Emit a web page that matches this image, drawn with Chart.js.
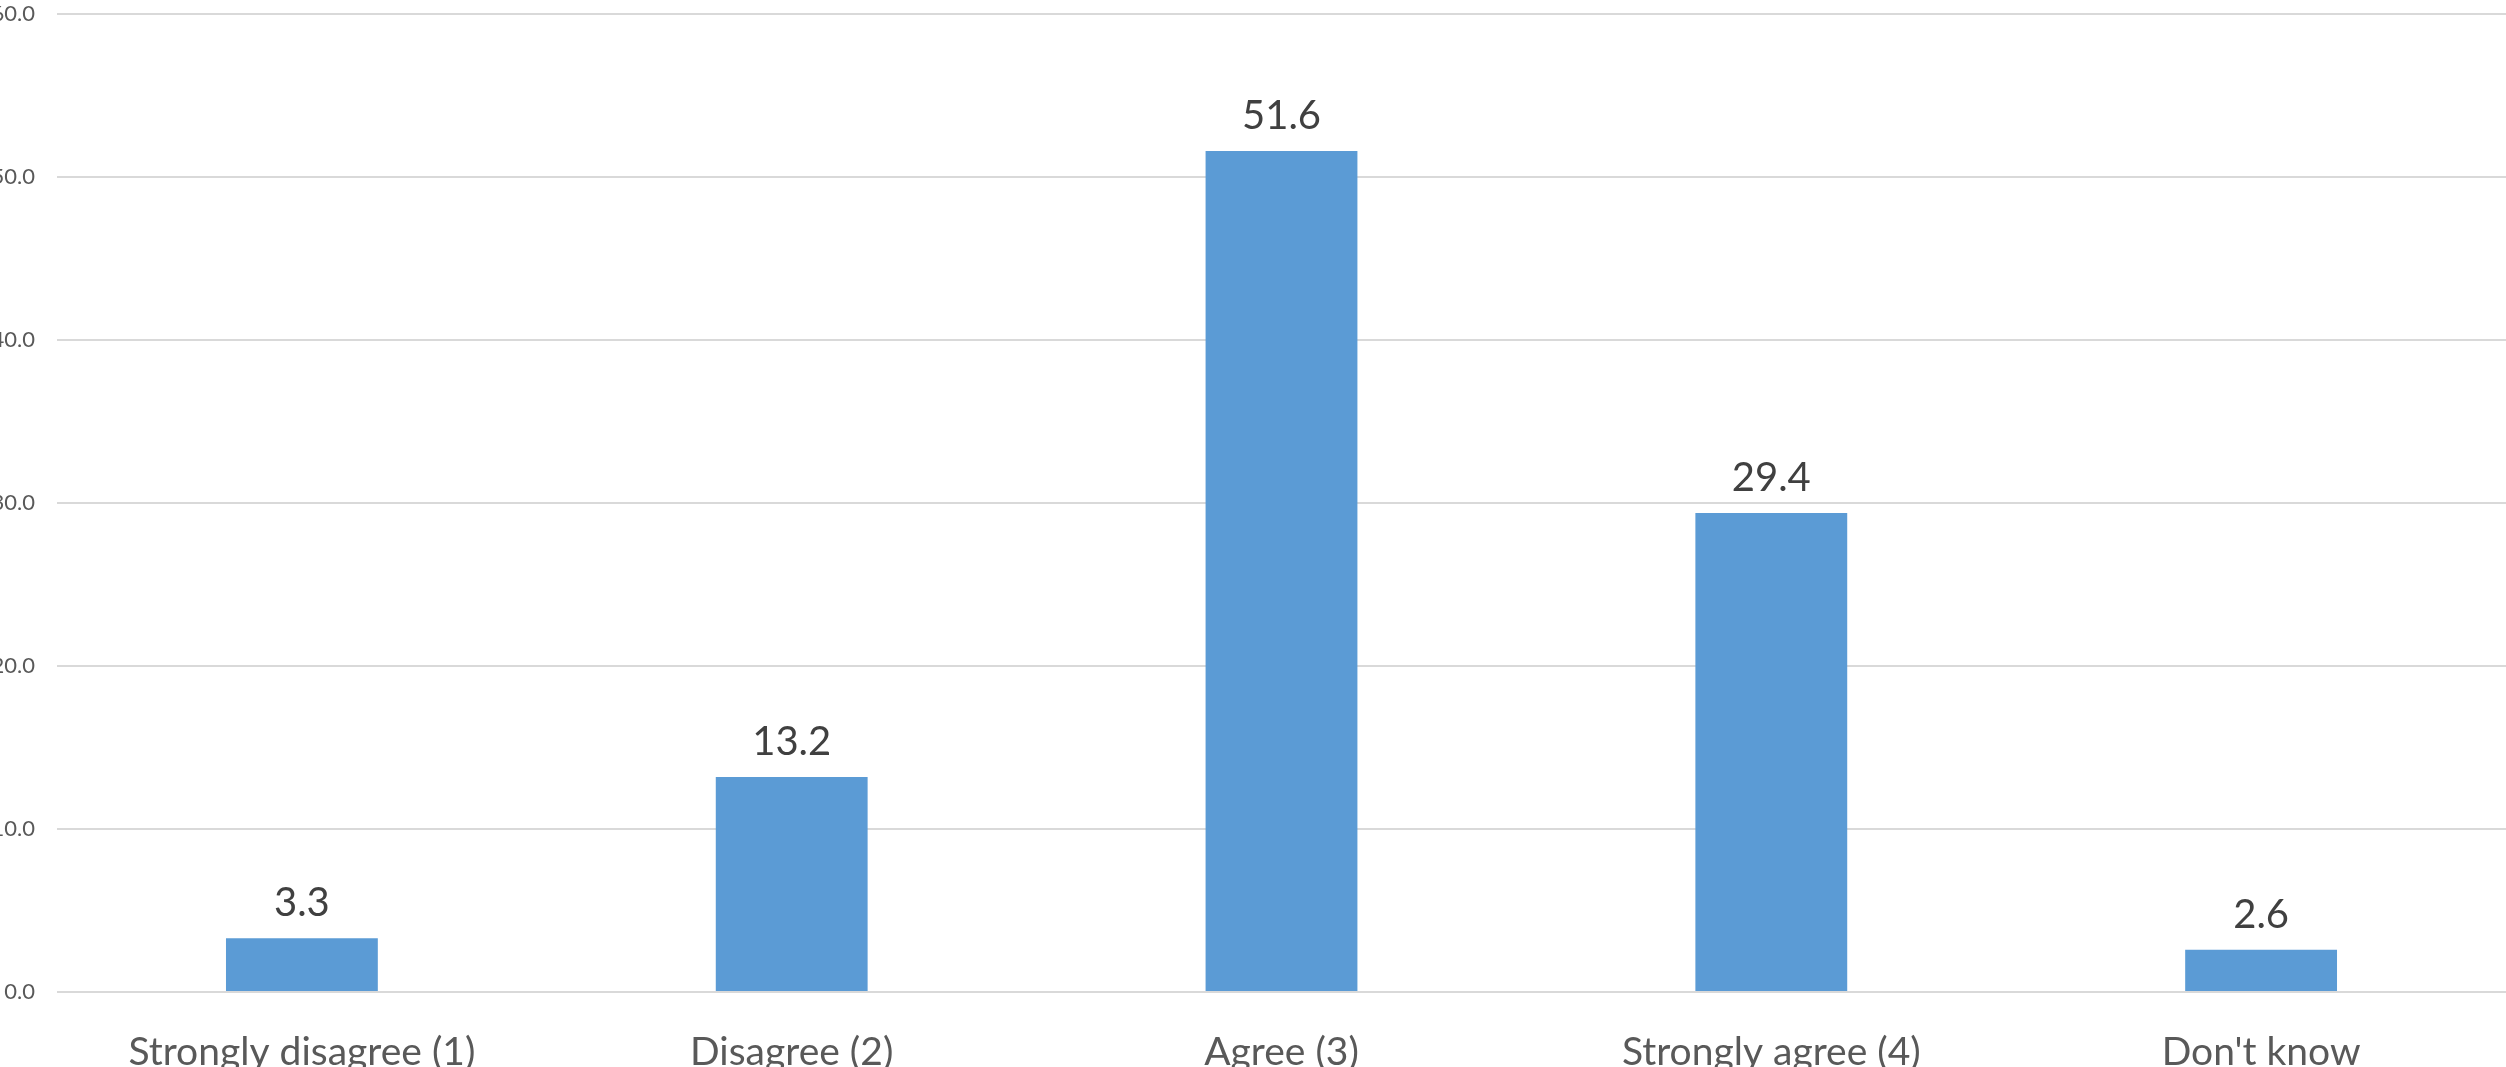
<!DOCTYPE html>
<html>
<head>
<meta charset="utf-8">
<script src="https://cdn.jsdelivr.net/npm/chart.js@4"></script>
<style>
  html, body { margin: 0; padding: 0; background: #fff; overflow: hidden; }
  #wrap { width: 2506px; height: 1088px; position: absolute; top: -21px; left: 0; }
</style>
</head>
<body>
<div id="wrap"><canvas id="chart"></canvas></div>
<script>
const categories = ['Strongly disagree (1)', 'Disagree (2)', 'Agree (3)', 'Strongly agree (4)', "Don't know"];
const percentages = [3.3, 13.2, 51.6, 29.4, 2.6];
const yTicks = [0, 10, 20, 30, 40, 50, 60];

const fontFamily = "Lato, 'Open Sans', sans-serif";

// draws the value above each bar
const barLabels = {
    id: 'barLabels',
    afterDatasetsDraw(chart) {
        const ctx = chart.ctx;
        const meta = chart.getDatasetMeta(0);
        ctx.save();
        ctx.font = `40px ${fontFamily}`;
        ctx.fillStyle = '#404040';
        ctx.textAlign = 'center';
        ctx.textBaseline = 'middle';
        meta.data.forEach((bar, i) => {
            ctx.fillText(percentages[i].toFixed(1), bar.x, bar.y - 35);
        });
        ctx.restore();
    }
};

const ctx = document.getElementById('chart').getContext('2d');
new Chart(ctx, {
    type: 'bar',
    data: {
        labels: categories,
        datasets: [{
            data: percentages,
            backgroundColor: '#5B9BD5',
            borderWidth: 0,
            barPercentage: 0.31,
            categoryPercentage: 1
        }]
    },
    options: {
        responsive: true,
        maintainAspectRatio: false,
        animation: false,
        layout: { padding: 0 },
        plugins: {
            legend: { display: false },
            tooltip: { enabled: false }
        },
        scales: {
            x: {
                grid: { display: false },
                border: { display: false },
                ticks: {
                    color: '#595959',
                    font: { family: fontFamily, size: 39, lineHeight: 1 },
                    padding: 33,
                    maxRotation: 0
                },
                afterFit(scale) { scale.height = 75; }
            },
            y: {
                min: 0,
                max: 60,
                afterBuildTicks(scale) { scale.ticks = yTicks.map(v => ({ value: v })); },
                grid: { color: '#D9D9D9', lineWidth: 2, drawTicks: false },
                border: { display: false },
                ticks: {
                    color: '#595959',
                    font: { family: fontFamily, size: 22 },
                    padding: 22,
                    callback: v => v.toFixed(1)
                },
                afterFit(scale) { scale.width = 57; }
            }
        }
    },
    plugins: [barLabels]
});
</script>
</body>
</html>
